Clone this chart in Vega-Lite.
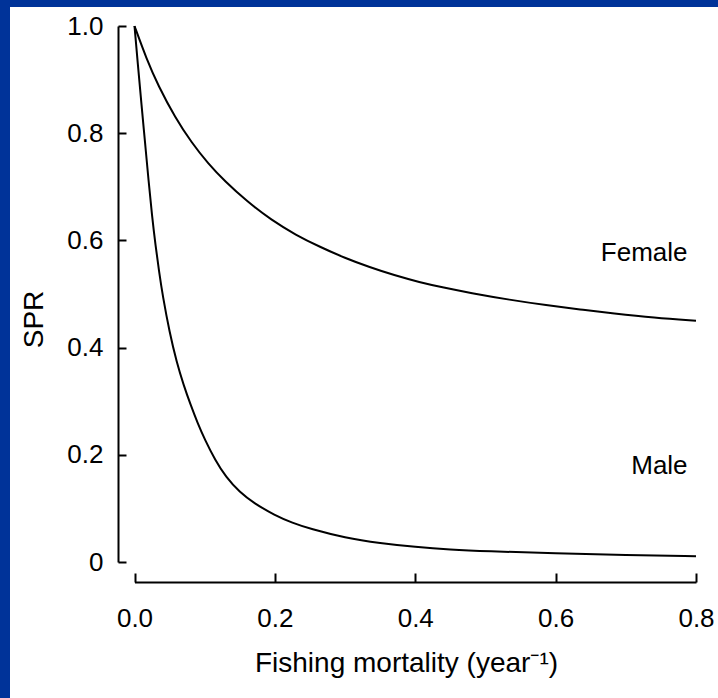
{
  "$schema": "https://vega.github.io/schema/vega-lite/v6.json",
  "width": 708,
  "height": 691,
  "autosize": {"type": "none"},
  "padding": {"left": 10, "top": 7, "right": 0, "bottom": 0},
  "background": "#003399",
  "view": {"fill": "white", "stroke": null},
  "datasets": {
    "curves": [
      {"sex": "Female", "F": 0, "SPR": 1},
      {"sex": "Female", "F": 0.017, "SPR": 0.939},
      {"sex": "Female", "F": 0.034, "SPR": 0.888},
      {"sex": "Female", "F": 0.058, "SPR": 0.829},
      {"sex": "Female", "F": 0.081, "SPR": 0.783},
      {"sex": "Female", "F": 0.105, "SPR": 0.743},
      {"sex": "Female", "F": 0.129, "SPR": 0.71},
      {"sex": "Female", "F": 0.16, "SPR": 0.673},
      {"sex": "Female", "F": 0.195, "SPR": 0.638},
      {"sex": "Female", "F": 0.23, "SPR": 0.61},
      {"sex": "Female", "F": 0.264, "SPR": 0.588},
      {"sex": "Female", "F": 0.3, "SPR": 0.567},
      {"sex": "Female", "F": 0.335, "SPR": 0.55},
      {"sex": "Female", "F": 0.37, "SPR": 0.535},
      {"sex": "Female", "F": 0.406, "SPR": 0.522},
      {"sex": "Female", "F": 0.44, "SPR": 0.512},
      {"sex": "Female", "F": 0.478, "SPR": 0.502},
      {"sex": "Female", "F": 0.535, "SPR": 0.489},
      {"sex": "Female", "F": 0.587, "SPR": 0.479},
      {"sex": "Female", "F": 0.635, "SPR": 0.471},
      {"sex": "Female", "F": 0.682, "SPR": 0.464},
      {"sex": "Female", "F": 0.74, "SPR": 0.456},
      {"sex": "Female", "F": 0.8, "SPR": 0.45},
      {"sex": "Male", "F": 0, "SPR": 1},
      {"sex": "Male", "F": 0.005, "SPR": 0.925},
      {"sex": "Male", "F": 0.01, "SPR": 0.853},
      {"sex": "Male", "F": 0.015, "SPR": 0.783},
      {"sex": "Male", "F": 0.02, "SPR": 0.712},
      {"sex": "Male", "F": 0.025, "SPR": 0.645},
      {"sex": "Male", "F": 0.03, "SPR": 0.59},
      {"sex": "Male", "F": 0.035, "SPR": 0.542},
      {"sex": "Male", "F": 0.04, "SPR": 0.498},
      {"sex": "Male", "F": 0.05, "SPR": 0.428},
      {"sex": "Male", "F": 0.06, "SPR": 0.373},
      {"sex": "Male", "F": 0.07, "SPR": 0.33},
      {"sex": "Male", "F": 0.08, "SPR": 0.293},
      {"sex": "Male", "F": 0.09, "SPR": 0.259},
      {"sex": "Male", "F": 0.1, "SPR": 0.229},
      {"sex": "Male", "F": 0.115, "SPR": 0.19},
      {"sex": "Male", "F": 0.13, "SPR": 0.159},
      {"sex": "Male", "F": 0.15, "SPR": 0.13},
      {"sex": "Male", "F": 0.17, "SPR": 0.11},
      {"sex": "Male", "F": 0.2, "SPR": 0.087},
      {"sex": "Male", "F": 0.225, "SPR": 0.073},
      {"sex": "Male", "F": 0.25, "SPR": 0.062},
      {"sex": "Male", "F": 0.3, "SPR": 0.045},
      {"sex": "Male", "F": 0.35, "SPR": 0.035},
      {"sex": "Male", "F": 0.4, "SPR": 0.028},
      {"sex": "Male", "F": 0.45, "SPR": 0.023},
      {"sex": "Male", "F": 0.5, "SPR": 0.02},
      {"sex": "Male", "F": 0.6, "SPR": 0.0162},
      {"sex": "Male", "F": 0.7, "SPR": 0.013},
      {"sex": "Male", "F": 0.8, "SPR": 0.0106}
    ],
    "labels": [
      {"label": "Female", "F": 0.788, "SPR": 0.576},
      {"label": "Male", "F": 0.788, "SPR": 0.179}
    ]
  },
  "layer": [
    {
      "data": {"name": "curves"},
      "mark": {"type": "line", "color": "black", "strokeWidth": 2, "interpolate": "basis"},
      "encoding": {
        "x": {
          "field": "F", "type": "quantitative",
          "scale": {"domain": [0, 0.8], "range": [124.5, 686], "nice": false, "zero": false},
          "axis": {
            "title": "Fishing mortality (year⁻¹)",
            "values": [0, 0.2, 0.4, 0.6, 0.8],
            "format": ".1f",
            "offset": -116,
            "tickSize": -9,
            "labelFlush": false,
            "labelPadding": 32,
            "titlePadding": 18,
            "titleX": 396
          }
        },
        "y": {
          "field": "SPR", "type": "quantitative",
          "scale": {"domain": [0, 1], "range": [555, 19], "nice": false, "zero": false},
          "axis": {
            "title": "SPR",
            "values": [0, 0.2, 0.4, 0.6, 0.8, 1.0],
            "labelExpr": "datum.value == 0 ? '0' : format(datum.value, '.1f')",
            "offset": -108,
            "tickSize": -8,
            "labelFlush": false,
            "labelPadding": 23,
            "titlePadding": 18,
            "titleY": 312
          }
        },
        "detail": {"field": "sex"}
      }
    },
    {
      "data": {"name": "labels"},
      "mark": {"type": "text", "align": "right", "baseline": "middle", "font": "Liberation Sans", "fontSize": 26, "color": "black"},
      "encoding": {
        "x": {"field": "F", "type": "quantitative"},
        "y": {"field": "SPR", "type": "quantitative"},
        "text": {"field": "label"}
      }
    }
  ],
  "config": {
    "axis": {
      "grid": false,
      "domainColor": "black",
      "domainWidth": 2,
      "tickColor": "black",
      "tickWidth": 2,
      "labelColor": "black",
      "labelFont": "Liberation Sans",
      "labelFontSize": 26,
      "titleColor": "black",
      "titleFont": "Liberation Sans",
      "titleFontSize": 28,
      "titleFontWeight": "normal"
    }
  }
}
